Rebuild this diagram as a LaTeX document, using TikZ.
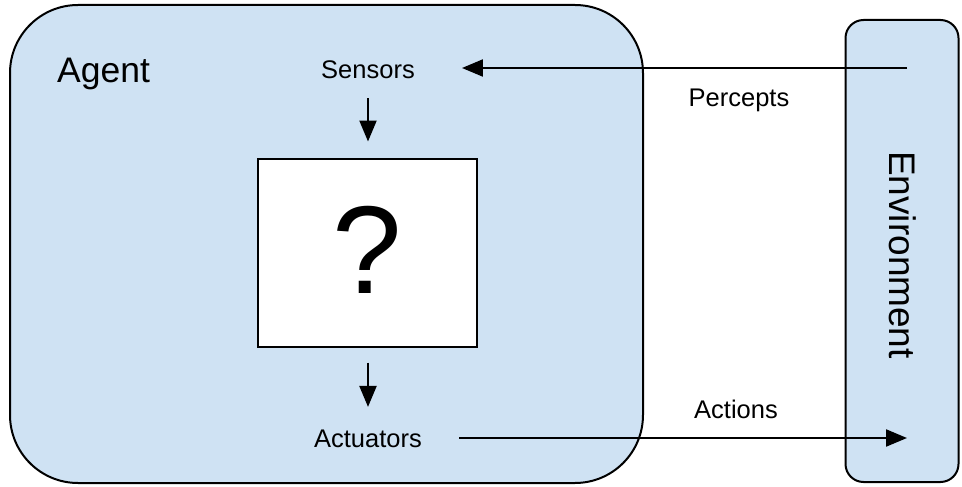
\documentclass[tikz,border=0pt]{standalone}
\usepackage{fontspec}
\setmainfont{Liberation Sans}
\usetikzlibrary{arrows.meta}
\definecolor{paleblue}{HTML}{CFE2F3}
\tikzset{
  x=1pt, y=-1pt,
  panel/.style={draw=black, line width=2pt, fill=paleblue},
  lbl/.style={font=\fontsize{25.5}{30}\selectfont, inner sep=0pt},
  flow/.style={line width=2.2pt, -{Triangle[length=21pt,width=17pt]}},
}
\begin{document}
\begin{tikzpicture}
  \useasboundingbox (0,0) rectangle (962,487);
  % agent and environment panels
  \node[panel, rounded corners=68pt, minimum width=633pt, minimum height=478pt,
        inner sep=0pt] (agent) at (326.5,244) {};
  \node[panel, rounded corners=18pt, minimum width=113pt, minimum height=462pt,
        inner sep=0pt] (env) at (902,251) {};
  \node[font=\fontsize{35.5}{40}\selectfont, inner sep=0pt, anchor=base west] (agenttitle) at (57,82) {Agent};
  \node[font=\fontsize{37}{40}\selectfont, inner sep=0pt, rotate=-90] (envlabel) at (903,255) {Environment};
  % inner parts of the agent
  \node[lbl] (sensors) at (368,70) {Sensors};
  \node[lbl] (actuators) at (368,439) {Actuators};
  \node[draw=black, line width=2pt, fill=white, minimum width=219pt, minimum height=188pt,
        inner sep=0pt, font=\fontsize{125}{130}\selectfont] (brain) at (367,252.5) {\raisebox{6pt}{?}};
  \draw[flow, shorten <=19pt, shorten >=16pt] (sensors.south) -- (sensors.south |- brain.north);
  \draw[flow, shorten <=15pt, shorten >=23pt] (actuators.north |- brain.south) -- (actuators.north);
  % exchange with the environment
  \coordinate (perceptsrc) at (907,68);
  \coordinate (actiondst) at (907,438);
  \draw[flow, shorten >=47pt] (perceptsrc) -- (sensors.east |- perceptsrc);
  \draw[flow, shorten <=37pt] (actuators.east |- actiondst) -- (actiondst);
  \node[lbl] (percepts) at (739,100) {Percepts};
  \node[lbl] (actions) at (736,409) {Actions};
\end{tikzpicture}
\end{document}
